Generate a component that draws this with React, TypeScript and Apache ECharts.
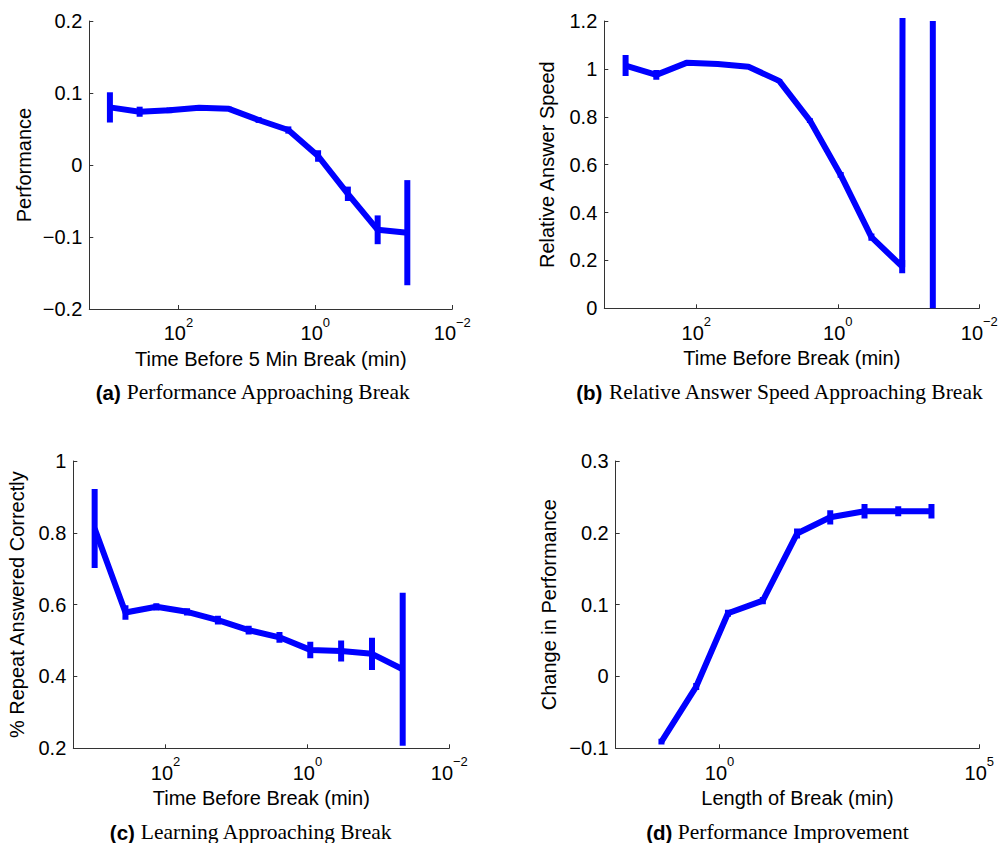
import React, { useEffect, useRef } from "react";
import * as echarts from "echarts";

// ---- data ----
const timeBeforeBreak = [1000, 368, 135, 49.8, 18.3, 6.74, 2.48, 0.912, 0.335, 0.123, 0.0454];

const perfMean = [0.08, 0.074, 0.076, 0.0796, 0.078, 0.0625, 0.0486, 0.0125, -0.04, -0.09, -0.094];
const perfErr = [0.021, 0.007, 0.004, 0.003, 0.003, 0.004, 0.005, 0.008, 0.01, 0.02, 0.073];

const speedMean = [1.014, 0.975, 1.026, 1.02, 1.009, 0.95, 0.784, 0.557, 0.297, 0.174, 100];
const speedErr = [0.044, 0.02, 0.008, 0.005, 0.006, 0.008, 0.01, 0.012, 0.015, 0.028, 200];

const learnMean = [0.812, 0.578, 0.594, 0.58, 0.557, 0.529, 0.509, 0.474, 0.471, 0.463, 0.42];
const learnErr = [0.11, 0.02, 0.01, 0.01, 0.012, 0.012, 0.015, 0.023, 0.029, 0.045, 0.213];

const breakLength = [0.076, 0.355, 1.45, 6.8, 31, 135, 617, 2750, 12000];
const improveMean = [-0.0907, -0.014, 0.088, 0.1056, 0.199, 0.2216, 0.23, 0.23, 0.23];
const improveErr = [0.004, 0.005, 0.005, 0.005, 0.007, 0.01, 0.01, 0.007, 0.01];

// tick label exponents shown on the log axes
const beforeTickExponents = [2, 0, -2];
const breakTickExponents = [0, 5];

const xNames = [
  "Time Before 5 Min Break (min)",
  "Time Before Break (min)",
  "Time Before Break (min)",
  "Length of Break (min)",
];
const yNames = ["Performance", "Relative Answer Speed", "% Repeat Answered Correctly", "Change in Performance"];
const captionLabels = ["(a)", "(b)", "(c)", "(d)"];
const captionTitles = [
  "Performance Approaching Break",
  "Relative Answer Speed Approaching Break",
  "Learning Approaching Break",
  "Performance Improvement",
];

// ---- styling ----
const BLUE = "#0000ff";
const AXIS = "#333333";
const SANS = '"Liberation Sans", Arial, Helvetica, sans-serif';
const SERIF = '"Liberation Serif", "Times New Roman", serif';
const FS = 20;
const LW = 6;

const grids = [
  { left: 89.3, top: 21, width: 363, height: 288 },
  { left: 604.3, top: 21, width: 375, height: 287.3 },
  { left: 73.3, top: 461, width: 376, height: 287.3 },
  { left: 615.7, top: 461, width: 363.6, height: 287.3 },
];

function supFormatter(allowed: number[]) {
  return (v: number) => {
    const e = Math.log10(v);
    const r = Math.round(e);
    if (Math.abs(e - r) > 1e-6 || allowed.indexOf(r) < 0) return "";
    const s = r < 0 ? "\u2212" + -r : String(r);
    return `{b|10}{s|${s}}`;
  };
}

const richSup = {
  b: { fontSize: FS, fontFamily: SANS, color: "#000", lineHeight: 27.6, verticalAlign: "bottom" },
  s: { fontSize: 13, fontFamily: SANS, color: "#000", lineHeight: 13, verticalAlign: "top" },
};

function logX(i: number, base: number, min: number, max: number, inverse: boolean, allowed: number[], nameGap: number) {
  return {
    type: "log",
    gridIndex: i,
    logBase: base,
    min,
    max,
    inverse,
    name: xNames[i],
    nameLocation: "middle",
    nameGap,
    nameTextStyle: { fontFamily: SANS, fontSize: FS, color: "#000" },
    axisLine: { show: true, onZero: false, lineStyle: { color: AXIS, width: 1 } },
    axisTick: { show: true, inside: true, length: 4, lineStyle: { color: AXIS, width: 1 } },
    minorTick: { show: false },
    splitLine: { show: false },
    axisLabel: {
      show: true,
      margin: 6.7,
      formatter: supFormatter(allowed),
      rich: richSup,
      showMinLabel: true,
      showMaxLabel: true,
    },
  };
}

function valY(i: number, min: number, max: number, interval: number, nameGap: number) {
  return {
    type: "value",
    gridIndex: i,
    min,
    max,
    interval,
    name: yNames[i],
    nameLocation: "middle",
    nameRotate: 90,
    nameGap,
    nameTextStyle: { fontFamily: SANS, fontSize: FS, color: "#000" },
    axisLine: { show: true, onZero: false, lineStyle: { color: AXIS, width: 1 } },
    axisTick: { show: true, inside: true, length: 4, lineStyle: { color: AXIS, width: 1 } },
    splitLine: { show: false },
    axisLabel: {
      margin: 7,
      fontFamily: SANS,
      fontSize: FS,
      color: "#000",
      formatter: (v: number) => String(Math.round(v * 1000) / 1000).replace("-", "\u2212"),
    },
  };
}

function lineSeries(i: number, xs: number[], ys: number[]) {
  return {
    type: "line",
    xAxisIndex: i,
    yAxisIndex: i,
    data: xs.map((x, k) => [x, ys[k]]),
    symbol: "none",
    showSymbol: false,
    clip: true,
    lineStyle: { color: BLUE, width: LW, join: "round", cap: "butt" },
    itemStyle: { color: BLUE },
    z: 2,
  };
}

function errorSeries(i: number, xs: number[], ys: number[], err: number[]) {
  return {
    type: "custom",
    xAxisIndex: i,
    yAxisIndex: i,
    clip: true,
    data: xs.map((x, k) => [x, ys[k] - err[k], ys[k] + err[k]]),
    encode: { x: 0, y: [1, 2] },
    renderItem: (_params: any, api: any) => {
      const x = api.value(0);
      const lo = api.coord([x, api.value(1)]);
      const hi = api.coord([x, api.value(2)]);
      return {
        type: "line",
        shape: { x1: lo[0], y1: lo[1], x2: hi[0], y2: hi[1] },
        style: { stroke: BLUE, lineWidth: LW, lineCap: "butt" },
      };
    },
    z: 3,
  };
}

const captionPos = [
  [253, 392],
  [780, 392],
  [251, 832],
  [777.5, 832],
];

export default function App() {
  const ref = useRef<HTMLDivElement>(null);
  useEffect(() => {
    if (!ref.current) return;
    const chart = echarts.init(ref.current, undefined, { renderer: "svg" });
    const option: any = {
      animation: false,
      backgroundColor: "#ffffff",
      grid: grids.map((g) => ({ ...g, containLabel: false })),
      xAxis: [
        logX(0, 100, 0.01, 2000, true, beforeTickExponents, 40),
        logX(1, 100, 0.01, 2000, true, beforeTickExponents, 40),
        logX(2, 100, 0.01, 2000, true, beforeTickExponents, 40),
        logX(3, 100000, 0.01, 100000, false, breakTickExponents, 40),
      ],
      yAxis: [
        valY(0, -0.2, 0.2, 0.1, 55),
        valY(1, 0, 1.2, 0.2, 47),
        valY(2, 0.2, 1, 0.2, 46),
        valY(3, -0.1, 0.3, 0.1, 57),
      ],
      series: [
        lineSeries(0, timeBeforeBreak, perfMean),
        errorSeries(0, timeBeforeBreak, perfMean, perfErr),
        lineSeries(1, timeBeforeBreak, speedMean),
        errorSeries(1, timeBeforeBreak, speedMean, speedErr),
        lineSeries(2, timeBeforeBreak, learnMean),
        errorSeries(2, timeBeforeBreak, learnMean, learnErr),
        lineSeries(3, breakLength, improveMean),
        errorSeries(3, breakLength, improveMean, improveErr),
      ],
      graphic: captionLabels.map((lab, i) => ({
        type: "text",
        x: captionPos[i][0],
        y: captionPos[i][1],
        style: {
          text: `{b|${lab}} {r|${captionTitles[i]}}`,
          align: "center",
          verticalAlign: "middle",
          rich: {
            b: { fontFamily: SANS, fontWeight: "bold", fontSize: 20.5, fill: "#000" },
            r: { fontFamily: SERIF, fontSize: 21.5, fill: "#000" },
          },
          fontFamily: SERIF,
          fontSize: 21.5,
          fill: "#000",
        },
      })),
    };
    chart.setOption(option);
    return () => chart.dispose();
  }, []);
  return (
    <div
      ref={ref}
      style={{ position: "absolute", left: 0, top: 0, width: 1001, height: 843, background: "#fff" }}
    />
  );
}
